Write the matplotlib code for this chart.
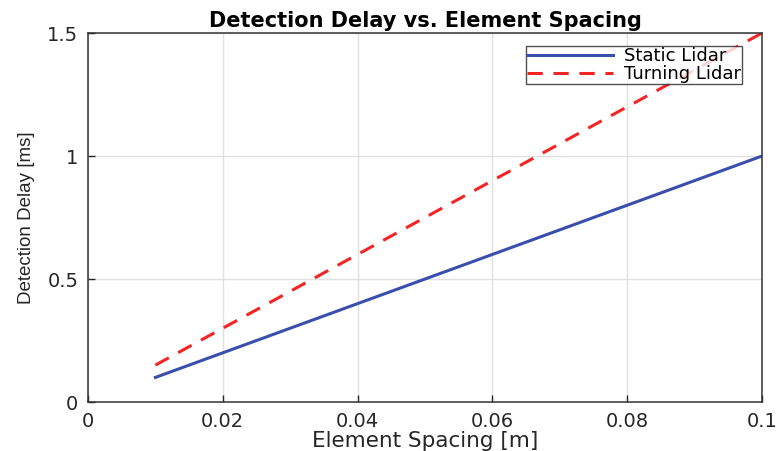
import matplotlib
matplotlib.use("Agg")
import matplotlib.pyplot as plt

# data
spacing = [0.01, 0.02, 0.03, 0.04, 0.05, 0.06, 0.07, 0.08, 0.09, 0.10]
static_delay = [0.10, 0.20, 0.30, 0.40, 0.50, 0.60, 0.70, 0.80, 0.90, 1.00]
turning_delay = [0.15, 0.30, 0.45, 0.60, 0.75, 0.90, 1.05, 1.20, 1.35, 1.50]
xticks = [0, 0.02, 0.04, 0.06, 0.08, 0.1]
xticklabels = ['0', '0.02', '0.04', '0.06', '0.08', '0.1']
yticks = [0, 0.5, 1, 1.5]
yticklabels = ['0', '0.5', '1', '1.5']

plt.rcParams['font.family'] = ['DejaVu Sans']

fig = plt.figure(figsize=(7.76, 4.51), dpi=100)
ax = fig.add_axes([0.1134, 0.1086, 0.8686, 0.8182])

ax.plot(spacing, static_delay, color='#3a4fad', lw=2.2, label='Static Lidar')
ax.plot(spacing, turning_delay, color='#f52424', lw=2.2, ls=(0, (5, 3.5)), label='Turning Lidar')

ax.set_xlim(0, 0.1)
ax.set_ylim(0, 1.5)
ax.set_xticks(xticks)
ax.set_xticklabels(xticklabels)
ax.set_yticks(yticks)
ax.set_yticklabels(yticklabels)
ax.tick_params(direction='in', labelsize=14, colors='#262626', length=5, width=1, pad=7)
ax.grid(True, color='#e0e0e0', lw=1)
ax.set_axisbelow(True)
for s in ax.spines.values():
    s.set_color('#333333')
    s.set_linewidth(1.1)

ax.set_title('Detection Delay vs. Element Spacing', fontsize=15, fontweight='bold', pad=4)
ax.set_xlabel('Element Spacing [m]', fontsize=15.5, color='#262626', labelpad=0)
ax.set_ylabel('Detection Delay [ms]', fontsize=13.5, color='#262626', labelpad=9,
              family='Liberation Sans')

leg = ax.legend(loc='upper right', bbox_to_anchor=(0.9703, 0.9648), borderaxespad=0,
                fontsize=13, frameon=True, fancybox=False,
                edgecolor='#262626', borderpad=0.05, handlelength=4.8, handletextpad=0.6,
                labelspacing=0.0)
leg.get_frame().set_linewidth(1)

fig.savefig('out.png', dpi=100)
